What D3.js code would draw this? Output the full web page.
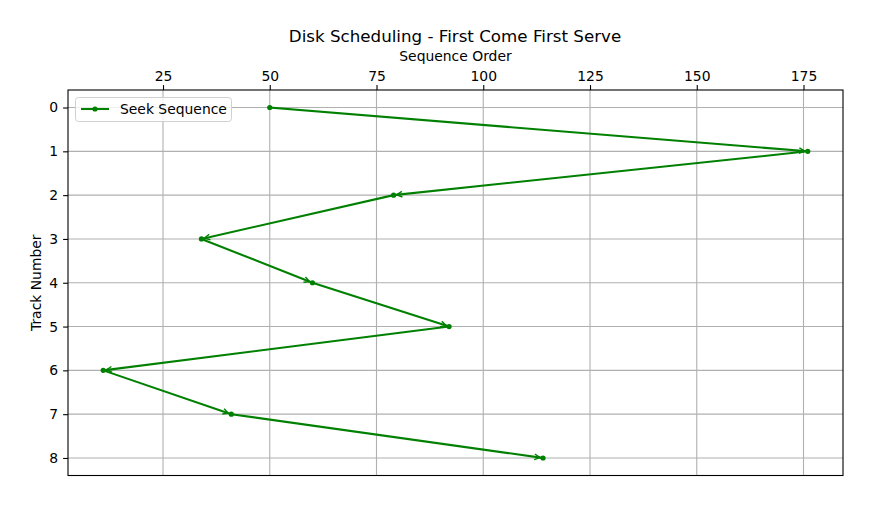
<!DOCTYPE html>
<html><head><meta charset="utf-8">
<script src="https://cdn.jsdelivr.net/npm/d3@7"></script>
<style>body{margin:0;background:#fff}svg{display:block;font-family:"DejaVu Sans",sans-serif}</style>
</head><body>
<script>
const trackNumbers = [0,1,2,3,4,5,6,7,8];
const seekSequence = [50,176,79,34,60,92,11,41,114];
const xTicks = [25,50,75,100,125,150,175];
const yTicks = [0,1,2,3,4,5,6,7,8];
const titleText = "Disk Scheduling - First Come First Serve";
const xLabel = "Sequence Order";
const yLabel = "Track Number";
const legendLabel = "Seek Sequence";

const W=873,H=505;
const m={l:68,r:843,t:90,b:475.5};
const green="#008000";
const fs=13.9;
const svg=d3.select("body").append("svg").attr("width",W).attr("height",H);
const x=d3.scaleLinear().domain([2.75,184.25]).range([m.l,m.r]);
const y=d3.scaleLinear().domain([-0.4,8.4]).range([m.t,m.b]);

// grid
const g=svg.append("g");
g.selectAll(".gx").data(xTicks).join("line").attr("x1",d=>x(d)).attr("x2",d=>x(d)).attr("y1",m.t).attr("y2",m.b).attr("stroke","#b0b0b0").attr("stroke-width",1.1);
g.selectAll(".gy").data(yTicks).join("line").attr("y1",d=>y(d)).attr("y2",d=>y(d)).attr("x1",m.l).attr("x2",m.r).attr("stroke","#b0b0b0").attr("stroke-width",1.1);

const pts=seekSequence.map((v,i)=>[x(v),y(trackNumbers[i])]);
// line
svg.append("path").attr("d",d3.line()(pts)).attr("fill","none").attr("stroke",green).attr("stroke-width",2.08).attr("stroke-linejoin","round").attr("stroke-linecap","square");
// markers
svg.selectAll(".pt").data(pts).join("circle").attr("cx",d=>d[0]).attr("cy",d=>d[1]).attr("r",2.6).attr("fill",green);
// arrows
for(let i=1;i<pts.length;i++){
  const [x0,y0]=pts[i-1],[x1,y1]=pts[i];
  const dx=x1-x0,dy=y1-y0,L=Math.hypot(dx,dy),ux=dx/L,uy=dy/L;
  const ex=x1-ux*3,ey=y1-uy*3;
  const hl=5.6,hw=2.8;
  const bx=ex-ux*hl,by=ey-uy*hl;
  const px=-uy,py=ux;
  svg.append("path").attr("d",`M${bx+px*hw},${by+py*hw}L${ex},${ey}L${bx-px*hw},${by-py*hw}`).attr("fill","none").attr("stroke",green).attr("stroke-width",1.4);
}
// frame
svg.append("rect").attr("x",m.l).attr("y",m.t).attr("width",m.r-m.l).attr("height",m.b-m.t).attr("fill","none").attr("stroke","#000").attr("stroke-width",1.1);

// axes
const xa=svg.append("g").attr("transform",`translate(0,${m.t})`).call(d3.axisTop(x).tickValues(xTicks).tickSize(4.9).tickPadding(4.2));
const ya=svg.append("g").attr("transform",`translate(${m.l},0)`).call(d3.axisLeft(y).tickValues(yTicks).tickSize(4.9).tickPadding(4.9));
[xa,ya].forEach(a=>{a.select(".domain").remove();a.selectAll("line").attr("stroke","#000").attr("stroke-width",1.1);a.selectAll("text").attr("font-family","DejaVu Sans").attr("font-size",fs).attr("fill","#000");});

svg.append("text").attr("x",455).attr("y",42).attr("text-anchor","middle").attr("font-size",16.7).text(titleText);
svg.append("text").attr("x",(m.l+m.r)/2).attr("y",61).attr("text-anchor","middle").attr("font-size",fs).text(xLabel);
svg.append("text").attr("transform",`translate(41,${(m.t+m.b)/2}) rotate(-90)`).attr("text-anchor","middle").attr("font-size",fs).text(yLabel);

// legend
const lg=svg.append("g");
lg.append("rect").attr("x",75.5).attr("y",97.5).attr("width",156).attr("height",24).attr("rx",3).attr("fill","#fff").attr("fill-opacity",0.8).attr("stroke","#d0d0d0");
lg.append("line").attr("x1",81).attr("x2",109).attr("y1",109).attr("y2",109).attr("stroke",green).attr("stroke-width",2.08);
lg.append("circle").attr("cx",95).attr("cy",109).attr("r",2.6).attr("fill",green);
lg.append("text").attr("x",120).attr("y",114).attr("font-size",fs).text(legendLabel);
</script>
</body></html>
